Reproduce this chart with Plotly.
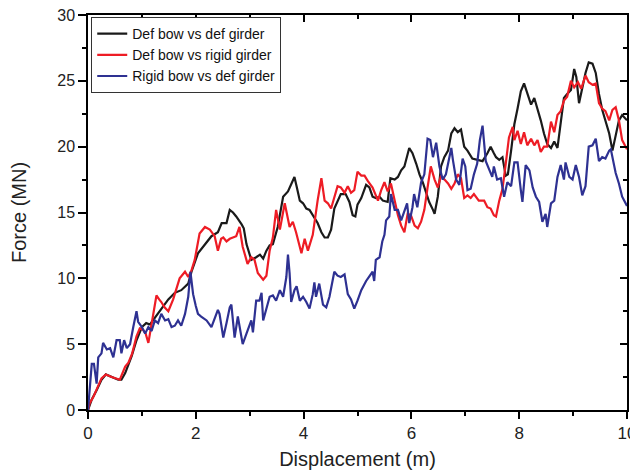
import plotly.graph_objects as go

# Def bow vs def girder
black_x = [0.0,0.02,0.07,0.16,0.25,0.33,0.44,0.56,0.62,0.69,0.81,0.90,1.0,1.08,1.15,1.24,1.36,1.49,1.61,1.73,1.86,1.92,2.04,2.17,2.29,2.41,2.48,2.57,2.63,2.69,2.75,2.85,2.89,2.94,3.03,3.12,3.19,3.25,3.31,3.37,3.43,3.52,3.62,3.71,3.77,3.83,3.87,3.93,3.99,4.05,4.11,4.17,4.26,4.33,4.39,4.45,4.51,4.57,4.63,4.69,4.78,4.85,4.91,4.96,5.0,5.07,5.16,5.22,5.28,5.34,5.41,5.47,5.56,5.61,5.69,5.75,5.81,5.87,5.96,6.02,6.09,6.15,6.21,6.27,6.33,6.40,6.43,6.49,6.55,6.61,6.68,6.74,6.80,6.86,6.92,6.98,7.04,7.13,7.22,7.32,7.41,7.47,7.53,7.57,7.63,7.69,7.75,7.79,7.85,7.91,7.97,8.03,8.09,8.15,8.22,8.28,8.34,8.40,8.46,8.52,8.59,8.65,8.71,8.77,8.83,8.89,8.96,9.02,9.06,9.11,9.17,9.23,9.29,9.36,9.42,9.48,9.54,9.60,9.67,9.73,9.79,9.85,9.91,10.0]
black_y = [0.0,0.2,0.8,1.5,2.3,2.7,2.5,2.3,2.3,2.8,4.1,5.3,6.3,6.6,6.5,7.0,7.7,8.4,8.9,9.1,9.6,10.5,11.9,12.6,13.2,13.5,14.2,14.2,15.2,15.0,14.7,14.1,13.8,12.6,11.4,11.6,11.8,11.5,12.1,12.5,12.6,13.9,16.2,16.6,17.1,17.7,17.0,15.9,15.7,15.3,15.2,14.8,14.2,13.5,13.1,13.1,13.7,15.3,15.9,16.4,16.4,15.8,14.8,14.7,15.6,16.1,17.1,16.9,16.2,16.1,16.2,15.9,15.8,17.6,17.5,17.7,18.2,18.5,19.9,19.5,18.7,17.9,17.3,16.6,15.8,15.2,14.9,16.2,18.5,19.2,19.7,21.0,21.4,21.1,21.3,20.0,19.7,19.1,19.0,18.9,19.5,20.0,19.5,19.2,19.0,19.2,17.8,17.9,19.7,21.7,22.9,24.2,24.8,24.0,23.2,23.7,22.9,22.0,21.0,20.2,19.9,20.4,19.9,22.0,23.7,24.0,24.3,25.9,25.3,23.3,24.5,25.6,26.4,26.3,25.6,24.0,22.8,21.9,21.0,19.7,20.9,22.0,22.4,22.0]

# Def bow vs rigid girder
red_x = [0.0,0.03,0.1,0.18,0.25,0.33,0.44,0.59,0.69,0.75,0.82,0.9,0.96,1.02,1.07,1.12,1.17,1.22,1.27,1.32,1.36,1.42,1.49,1.58,1.70,1.80,1.86,1.92,1.98,2.07,2.17,2.26,2.35,2.41,2.47,2.51,2.57,2.63,2.69,2.75,2.81,2.87,2.96,3.03,3.09,3.15,3.25,3.31,3.37,3.43,3.49,3.56,3.65,3.74,3.80,3.86,3.96,4.02,4.08,4.17,4.26,4.33,4.39,4.45,4.51,4.57,4.63,4.69,4.76,4.82,4.88,4.94,5.0,5.07,5.13,5.19,5.28,5.38,5.44,5.50,5.56,5.62,5.69,5.75,5.81,5.87,5.93,5.99,6.06,6.12,6.18,6.24,6.30,6.36,6.43,6.49,6.55,6.61,6.68,6.74,6.80,6.86,6.92,6.98,7.04,7.10,7.16,7.25,7.35,7.41,7.47,7.53,7.57,7.63,7.69,7.75,7.81,7.88,7.91,7.97,8.03,8.09,8.15,8.22,8.28,8.34,8.40,8.46,8.52,8.59,8.65,8.71,8.77,8.83,8.89,8.96,9.02,9.09,9.15,9.23,9.29,9.36,9.42,9.48,9.54,9.60,9.67,9.73,9.79,9.85,9.91,10.0]
red_y = [0.0,0.5,1.0,1.8,2.4,2.7,2.5,2.3,3.3,3.6,4.3,5.6,6.2,6.1,5.8,5.1,6.3,7.3,8.7,8.4,8.2,7.8,7.5,8.4,10.0,10.5,10.1,10.6,11.4,13.4,13.9,13.7,13.2,12.1,13.0,13.1,12.8,13.0,13.1,13.2,13.9,12.4,11.1,11.6,11.4,10.4,9.9,10.2,12.1,13.1,15.2,13.7,15.7,13.9,14.3,13.5,11.9,13.0,12.1,13.3,15.9,17.6,15.9,15.7,15.3,16.2,17.0,16.9,16.5,17.0,16.5,16.7,18.1,17.8,17.8,17.4,16.9,15.9,16.7,17.3,16.6,17.2,15.9,14.8,14.0,13.5,14.9,14.8,14.0,13.8,14.3,15.2,16.9,18.5,17.5,16.9,17.8,17.5,17.2,16.8,17.2,17.9,17.6,16.1,16.3,16.1,16.4,15.9,15.9,15.4,15.3,14.8,14.7,15.9,16.8,18.7,20.7,21.5,20.5,21.2,20.2,21.1,20.1,20.6,20.1,20.5,19.6,20.0,20.0,21.9,21.1,22.4,22.7,23.5,23.8,25.0,24.5,24.9,24.4,25.4,24.9,24.7,24.8,23.3,22.9,22.7,22.0,22.8,23.0,22.0,20.5,19.8]

# Rigid bow vs def girder
blue_x = [0.0,0.03,0.07,0.11,0.16,0.19,0.25,0.28,0.35,0.41,0.47,0.53,0.59,0.62,0.67,0.72,0.78,0.84,0.90,0.93,1.0,1.06,1.12,1.18,1.24,1.30,1.36,1.43,1.49,1.55,1.61,1.67,1.73,1.80,1.86,1.90,1.95,2.0,2.04,2.1,2.2,2.29,2.35,2.41,2.44,2.51,2.57,2.63,2.66,2.72,2.78,2.87,2.94,3.03,3.06,3.12,3.18,3.22,3.25,3.31,3.37,3.43,3.49,3.56,3.62,3.68,3.71,3.74,3.77,3.83,3.87,3.93,3.99,4.05,4.11,4.17,4.20,4.23,4.29,4.36,4.42,4.48,4.57,4.63,4.69,4.76,4.82,4.88,4.94,5.0,5.07,5.16,5.25,5.28,5.31,5.34,5.41,5.46,5.50,5.53,5.59,5.62,5.69,5.75,5.81,5.87,5.92,5.96,6.02,6.05,6.11,6.18,6.24,6.30,6.35,6.40,6.46,6.52,6.58,6.64,6.71,6.74,6.77,6.83,6.89,6.95,7.0,7.04,7.10,7.16,7.22,7.27,7.32,7.38,7.44,7.50,7.53,7.59,7.66,7.72,7.78,7.85,7.91,7.97,8.03,8.06,8.12,8.19,8.25,8.31,8.37,8.43,8.49,8.52,8.59,8.65,8.71,8.77,8.83,8.86,8.93,8.99,9.05,9.11,9.17,9.23,9.29,9.36,9.42,9.48,9.54,9.60,9.67,9.70,9.76,9.79,9.85,9.91,10.0]
blue_y = [0.0,1.5,3.5,3.5,2.0,4.0,4.3,5.1,4.6,4.7,4.0,5.3,5.3,4.3,5.3,4.7,5.0,6.3,7.5,6.7,6.3,5.8,6.3,6.0,6.8,6.6,7.3,6.8,6.9,6.3,6.4,6.8,6.4,7.3,8.6,10.5,8.8,7.9,7.3,7.1,6.8,6.3,7.0,7.6,7.3,5.5,6.6,7.8,8.0,5.5,7.1,5.0,5.8,6.8,5.9,8.3,8.3,8.9,6.8,7.8,8.6,8.7,8.3,9.1,8.6,10.1,11.8,10.4,8.2,9.1,9.4,8.3,8.6,8.2,7.7,8.8,9.7,8.6,9.6,8.0,7.8,8.6,10.5,10.2,10.1,10.3,8.8,8.4,7.7,8.3,9.1,9.8,10.4,10.5,9.8,11.4,11.6,12.8,13.3,14.4,14.7,16.4,15.2,15.2,14.4,15.2,15.7,14.2,15.4,16.4,15.4,17.3,17.9,20.6,20.5,19.2,20.3,18.5,17.5,17.9,19.4,19.9,19.0,17.5,17.1,19.1,18.5,16.7,16.8,17.9,18.7,20.5,21.6,18.9,18.3,17.7,18.5,17.5,17.6,16.2,17.3,17.0,18.8,18.8,16.7,15.8,18.6,18.2,16.9,16.2,15.8,14.3,14.9,13.9,15.7,15.9,17.7,18.6,17.5,18.8,17.7,17.5,18.6,17.7,16.3,17.0,20.0,20.1,20.6,18.9,19.2,19.1,19.7,19.8,18.6,18.0,17.2,16.2,15.5]

series_names = ["Def bow vs def girder", "Def bow vs rigid girder", "Rigid bow vs def girder"]
series_colors = ["#1a1a1a", "#ee1c25", "#2e3192"]

x_ticks = [0, 2, 4, 6, 8, 10]
y_ticks = [0, 5, 10, 15, 20, 25, 30]

FONT = "Liberation Sans, Arial, sans-serif"

fig = go.Figure()
for xs, ys, name, col in zip([black_x, red_x, blue_x], [black_y, red_y, blue_y], series_names, series_colors):
    fig.add_trace(go.Scatter(x=xs, y=ys, mode="lines", name=name,
                             line=dict(color=col, width=2.2), hoverinfo="skip"))

# dummy trace to activate mirrored axes (top/right with inside ticks)
fig.add_trace(go.Scatter(x=[None], y=[None], xaxis="x2", yaxis="y2", showlegend=False, hoverinfo="skip"))

axis_common = dict(showgrid=False, zeroline=False, showline=True, linecolor="black", linewidth=1.5,
                   tickcolor="black", tickwidth=1.5, automargin=False, ticklabeloverflow="allow")

# the page body adds an 8px offset; the figure is sized so the plot area lands at 88..627 x 15..410
fig.update_layout(
    width=630, height=467,
    margin=dict(l=80, r=11, t=7, b=65, autoexpand=False),
    paper_bgcolor="white", plot_bgcolor="white",
    font=dict(family=FONT, color="#222222", size=16),
    showlegend=True,
    legend=dict(x=0.006, y=0.995, xanchor="left", yanchor="top",
                bgcolor="white", bordercolor="#333333", borderwidth=1,
                font=dict(size=14, family=FONT, color="#111111"),
                tracegroupgap=0, itemwidth=30),
    xaxis=dict(range=[0, 10], tickvals=x_ticks, ticks="outside", ticklen=7,
               minor=dict(dtick=1, ticks="outside", ticklen=4, tickcolor="black", tickwidth=1.5),
               title=dict(text="Displacement (m)", font=dict(size=20, family=FONT), standoff=10),
               tickfont=dict(size=17, family=FONT), **axis_common),
    yaxis=dict(range=[0, 30], tickvals=y_ticks, ticks="outside", ticklen=8,
               minor=dict(dtick=2.5, ticks="outside", ticklen=4, tickcolor="black", tickwidth=1.5),
               title=dict(text="Force (MN)", font=dict(size=20, family=FONT), standoff=26),
               tickfont=dict(size=16, family=FONT), **axis_common),
    xaxis2=dict(range=[0, 10], overlaying="x", side="top", tickvals=x_ticks, ticks="inside", ticklen=7,
                minor=dict(dtick=1, ticks="inside", ticklen=4, tickcolor="black", tickwidth=1.5),
                showticklabels=False, **axis_common),
    yaxis2=dict(range=[0, 30], overlaying="y", side="right", tickvals=y_ticks, ticks="inside", ticklen=7,
                minor=dict(dtick=2.5, ticks="inside", ticklen=4, tickcolor="black", tickwidth=1.5),
                showticklabels=False, **axis_common),
)

fig.write_html("out.html")
